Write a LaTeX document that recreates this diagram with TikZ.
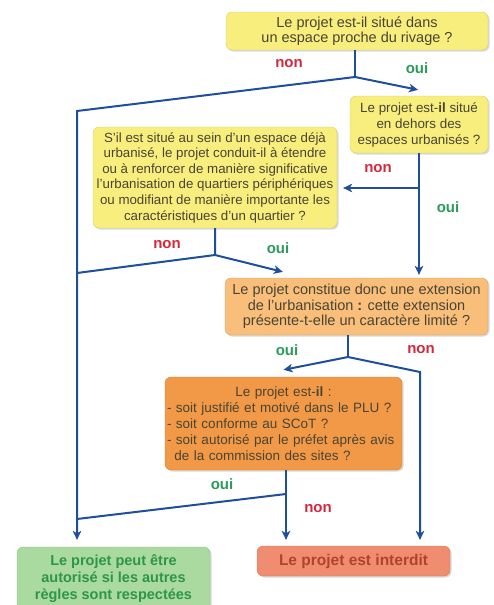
\documentclass[tikz,border=0pt]{standalone}
\usepackage{fontspec}
\setmainfont{Liberation Sans}
\usepackage{tikz}
\usetikzlibrary{shapes,arrows.meta,positioning,calc,shadows}
\definecolor{boxyellow}{RGB}{247,238,125}
\definecolor{boxpeach}{RGB}{248,190,122}
\definecolor{boxorange}{RGB}{241,153,70}
\definecolor{boxgreen}{RGB}{170,218,160}
\definecolor{boxred}{RGB}{240,141,112}
\definecolor{boxtext}{RGB}{74,68,52}
\definecolor{flow}{RGB}{31,78,154}
\definecolor{nonred}{RGB}{212,40,60}
\definecolor{ouigreen}{RGB}{42,155,90}
\definecolor{okgreen}{RGB}{46,150,72}
\definecolor{nodark}{RGB}{178,66,46}

\begin{document}
\begin{tikzpicture}[x=1pt,y=-1pt,
  box/.style={rounded corners=6pt, align=center, inner sep=2pt, text=boxtext,
    draw=#1!85!black, line width=0.3pt, fill=#1,
    drop shadow={shadow xshift=1.5pt,shadow yshift=-1.5pt,opacity=.3}},
  link/.style={draw=flow, line width=2pt},
  arr/.style={link, -{Stealth[length=9pt,width=8.5pt,inset=2.5pt]}},
  nonlabel/.style={text=nonred, font=\bfseries\fontsize{15}{15}\selectfont},
  ouilabel/.style={text=ouigreen, font=\bfseries\fontsize{15}{15}\selectfont}]
\useasboundingbox (0,0) rectangle (493,605);
\clip (0,0) rectangle (493,605);

% questions
\node[box=boxyellow, minimum width=262pt, minimum height=38pt,
  font=\fontsize{14.5}{15}\selectfont] (q1) at (357,31)
  {Le projet est-il situé dans\\un espace proche du rivage ?};
\node[box=boxyellow, minimum width=138pt, minimum height=57pt,
  font=\fontsize{13.4}{16}\selectfont] (q2) at (419,124.5)
  {Le projet est-\textbf{il} situé\\en dehors des\\espaces urbanisés ?};
\node[box=boxyellow, minimum width=244pt, minimum height=101pt,
  font=\fontsize{13.3}{15.6}\selectfont] (q3) at (215,177.5)
  {S'il est situé au sein d'un espace déjà\\urbanisé, le projet conduit-il à étendre\\ou à renforcer de manière significative\\l'urbanisation de quartiers périphériques\\ou modifiant de manière importante les\\caractéristiques d'un quartier ?};
\node[box=boxpeach, minimum width=263pt, minimum height=57pt,
  font=\fontsize{14.5}{15.5}\selectfont] (q4) at (356.5,306.5)
  {Le projet constitue donc une extension\\de l'urbanisation \textbf{:} cette extension\\présente-t-elle un caractère limité ?};
\node[box=boxorange, minimum width=237pt, minimum height=93pt, text width=233pt,
  align=left, font=\fontsize{13.5}{16}\selectfont] (q5) at (283.5,423.5)
  {\centerline{Le projet est-\textbf{il} :}
  - soit justifié et motivé dans le PLU ?\\
  - soit conforme au SCoT ?\\
  - soit autorisé par le préfet après avis\\
  \hspace*{0.55em}de la commission des sites ?};

% answers
\node[box=boxgreen, minimum width=193pt, minimum height=64pt, text=okgreen,
  font=\bfseries\fontsize{14.5}{17}\selectfont] (ok) at (113.5,579)
  {Le projet peut être\\autorisé si les autres\\règles sont respectées};
\node[box=boxred, minimum width=193pt, minimum height=30pt, text=nodark,
  font=\bfseries\fontsize{15.5}{16}\selectfont] (no) at (353.5,561)
  {Le projet est interdit};

% junctions
\coordinate (j1) at (355,77);
\coordinate (c1) at (77,111);
\coordinate (j2) at (419,188);
\coordinate (j3) at (215,255);
\coordinate (c3) at (77,273);
\coordinate (j4) at (348,357);
\coordinate (c4) at (420,372);
\coordinate (j5) at (286,494);
\coordinate (c5) at (77,519);

% connectors
\draw[link] (j1 |- q1.south) -- (j1);
\draw[arr] (j1) -- ([yshift=6pt]q2.north -| 418,0);
\draw[arr] (j1) -- (c1) -- ([yshift=7pt]ok.north -| c1);
\draw[arr] (q2.south) -- ([yshift=3pt]q4.north -| q2.south);
\draw[arr] (j2) -- ($(q3.east |- j2)+(6,0)$);
\draw[link] (j3 |- q3.south) -- (j3) -- (c3);
\draw[arr] (j3) -- ($(q4.north west)+(58,-6)$);
\draw[link] (j4 |- q4.south) -- (j4);
\draw[arr] (j4) -- ([yshift=7pt]q5.north);
\draw[arr] (j4) -- (c4) -- ([yshift=6pt]no.north -| c4);
\draw[arr] (j5 |- q5.south) -- ([yshift=6pt]no.north -| j5);
\draw[link] (j5) -- (c5);

% labels
\node[nonlabel] (n1) at (289,64) {non};
\node[ouilabel] (o1) at (417,68) {oui};
\node[nonlabel] (n2) at (378,169) {non};
\node[ouilabel] (o2) at (448,207) {oui};
\node[nonlabel] (n3) at (167,245) {non};
\node[ouilabel] (o3) at (278,248) {oui};
\node[ouilabel] (o4) at (287,350) {oui};
\node[nonlabel] (n4) at (421,350) {non};
\node[ouilabel] (o5) at (222,484) {oui};
\node[nonlabel] (n5) at (318,509) {non};
\end{tikzpicture}
\end{document}
